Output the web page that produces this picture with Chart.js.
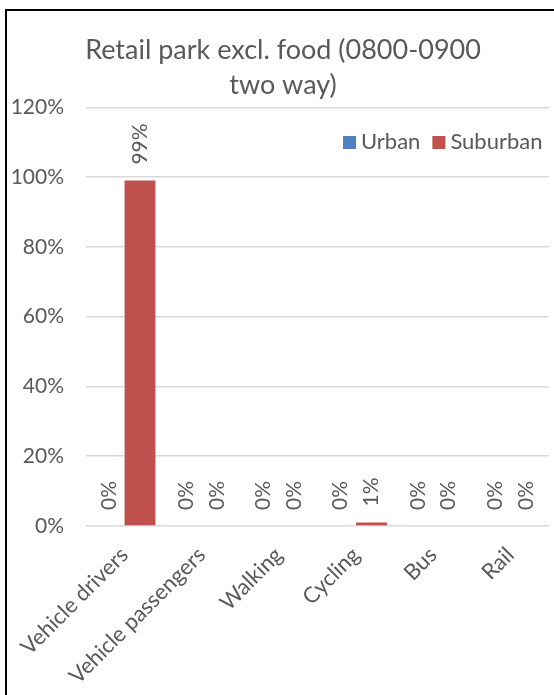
<!DOCTYPE html>
<html>
<head>
<meta charset="utf-8">
<script src="https://cdn.jsdelivr.net/npm/chart.js@4/dist/chart.umd.min.js"></script>
<style>
html,body{margin:0;padding:0;background:#fff;overflow:hidden;width:554px;height:695px;}
#frame{position:absolute;left:5px;top:9px;width:560px;height:700px;border:2px solid #000;box-sizing:border-box;}
#wrap{position:absolute;left:0;top:0;width:566px;height:695px;}
</style>
</head>
<body>
<div id="frame"></div>
<div id="wrap"><canvas id="c" width="566" height="695"></canvas></div>
<script>
const categories = ["Vehicle drivers","Vehicle passengers","Walking","Cycling","Bus","Rail"];
const urban = [0,0,0,0,0,0];
const suburban = [99,0,0,1,0,0];
const yTicks = [0,20,40,60,80,100,120];
const titleLines = ["Retail park excl. food (0800-0900","two way)"];

const GREY = '#595959';
const FONT = 'Lato, "Open Sans", sans-serif';

const labelPlugin = {
  id:'barLabels',
  afterDatasetsDraw(chart){
    const ctx = chart.ctx;
    ctx.save();
    ctx.fillStyle = GREY;
    ctx.font = '21px ' + FONT;
    ctx.textAlign = 'left';
    ctx.textBaseline = 'middle';
    chart.data.datasets.forEach((ds,i)=>{
      const meta = chart.getDatasetMeta(i);
      meta.data.forEach((bar,j)=>{
        ctx.save();
        ctx.translate(bar.x, bar.y - 16);
        ctx.rotate(-Math.PI/2);
        ctx.fillText(ds.data[j] + '%', 0, 0);
        ctx.restore();
      });
    });
    ctx.restore();
  }
};

const legendPlugin = {
  id:'customLegend',
  afterDraw(chart){
    const ctx = chart.ctx;
    ctx.save();
    ctx.font = '22px ' + FONT;
    ctx.textBaseline = 'middle';
    ctx.textAlign = 'left';
    let x = 343;
    const y = 142;
    chart.data.datasets.forEach(ds=>{
      ctx.fillStyle = ds.backgroundColor;
      ctx.fillRect(x, y-6, 13, 13);
      ctx.fillStyle = GREY;
      ctx.fillText(ds.label, x+18, y);
      x += 18 + ctx.measureText(ds.label).width + 12;
    });
    ctx.restore();
  }
};

new Chart(document.getElementById('c'), {
  type:'bar',
  data:{
    labels:categories,
    datasets:[
      {label:'Urban', data:urban, backgroundColor:'#4F81BD'},
      {label:'Suburban', data:suburban, backgroundColor:'#C0504D'}
    ]
  },
  options:{
    responsive:false,
    animation:false,
    devicePixelRatio:1,
    layout:{padding:{top:0,right:0,left:0,bottom:0}},
    datasets:{bar:{categoryPercentage:0.8,barPercentage:1.0}},
    plugins:{
      legend:{display:false},
      tooltip:{enabled:false},
      title:{display:true,text:titleLines,color:GREY,
        font:{family:FONT,size:27,weight:'normal',lineHeight:1.32},
        padding:{top:32,bottom:4}}
    },
    scales:{
      x:{
        grid:{display:false},
        border:{display:false},
        ticks:{color:GREY,font:{family:FONT,size:22},minRotation:45,maxRotation:45,padding:8},
        afterFit(s){s.height = 169;}
      },
      y:{
        min:0,max:120,
        afterBuildTicks(s){s.ticks = yTicks.map(v=>({value:v}));},
        grid:{color:'#D9D9D9',lineWidth:1.5,drawTicks:false},
        border:{display:false},
        ticks:{color:GREY,font:{family:FONT,size:21},padding:22,callback:v=>v+'%'},
        afterFit(s){s.width = 86;}
      },
      yRight:{
        position:'right',
        min:0,max:120,
        grid:{display:false},
        border:{display:false},
        ticks:{display:false},
        afterFit(s){s.width = 17;}
      }
    }
  },
  plugins:[labelPlugin, legendPlugin]
});
</script>
</body>
</html>
